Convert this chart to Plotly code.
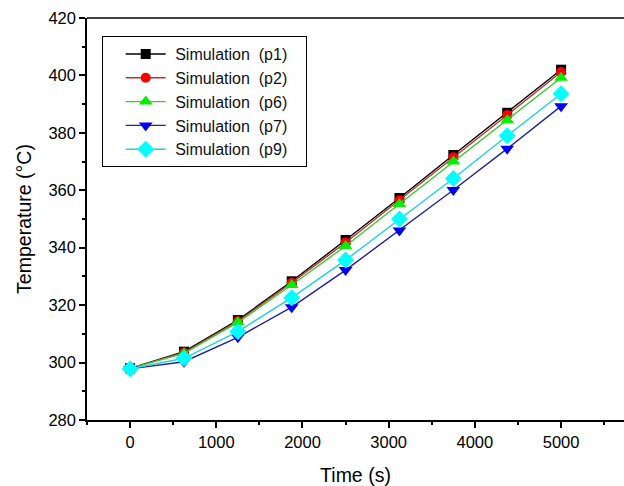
import plotly.graph_objects as go

time_s = [0, 625, 1250, 1875, 2500, 3125, 3750, 4375, 5000]
p1 = [298, 303.8, 314.8, 328.3, 342.7, 357.3, 372.3, 387, 402]
p2 = [298, 303.5, 314.4, 327.8, 341.8, 356.5, 371.5, 386.2, 401.2]
p6 = [298, 303.2, 314, 327, 340.6, 355.2, 370, 384.4, 399.2]
p7 = [297.8, 300.3, 308.8, 319.3, 332.2, 346, 360.1, 374.5, 389.3]
p9 = [297.8, 301.5, 310.8, 322.6, 335.7, 350, 364.1, 379, 393.6]

x_ticks = [0, 1000, 2000, 3000, 4000, 5000]
x_minor = [-500, 500, 1500, 2500, 3500, 4500, 5500]
y_ticks = [280, 300, 320, 340, 360, 380, 400, 420]
y_minor = [290, 310, 330, 350, 370, 390, 410]

sp = "\u00a0\u00a0"
series = [
    ("Simulation" + sp + "(p1)", p1, "#000000", "#000000", "square", 10),
    ("Simulation" + sp + "(p2)", p2, "#c03030", "#ff0000", "circle", 10),
    ("Simulation" + sp + "(p6)", p6, "#33cc33", "#00f000", "triangle-up", 12),
    ("Simulation" + sp + "(p7)", p7, "#222299", "#0000ee", "triangle-down", 12),
    ("Simulation" + sp + "(p9)", p9, "#20d0e0", "#00ffff", "diamond", 13),
]

fig = go.Figure()
for name, vals, lc, mc, sym, sz in series:
    fig.add_trace(go.Scatter(
        x=time_s, y=vals, name="\u00a0" + name + "\u00a0\u00a0\u00a0", mode="lines+markers",
        line=dict(color=lc, width=1.4),
        marker=dict(symbol=sym, size=sz, color=mc, line=dict(width=0)),
    ))

fam = "Liberation Sans, Arial, sans-serif"
axis_font = dict(family=fam, size=16.5, color="black")
fig.update_layout(
    width=624, height=486,
    margin=dict(l=87, r=0, t=18, b=66),
    paper_bgcolor="white", plot_bgcolor="white",
    font=dict(family=fam, color="black"),
    showlegend=True,
    legend=dict(
        x=0.0274, y=0.955, xanchor="left", yanchor="top",
        bordercolor="black", borderwidth=1, bgcolor="white",
        font=dict(size=16, color="#111111"),
        tracegroupgap=0, itemwidth=40, indentation=18,
    ),
    xaxis=dict(
        range=[-500, 5730], showgrid=False, zeroline=False, automargin=False,
        showline=True, linecolor="black", linewidth=1.5,
        ticks="outside", ticklen=6, tickwidth=1.5, tickcolor="black",
        tickvals=x_ticks, ticktext=[str(v) for v in x_ticks],
        minor=dict(tickvals=x_minor, ticks="outside", ticklen=3, tickwidth=1.5, tickcolor="black"),
        tickfont=axis_font,
        title=dict(text="Time (s)", font=dict(family=fam, size=19.5, color="black"), standoff=20),
    ),
    yaxis=dict(
        range=[280, 420], showgrid=False, zeroline=False, automargin=False,
        showline=True, linecolor="black", linewidth=1.5,
        ticks="outside", ticklen=6, tickwidth=1.5, tickcolor="black",
        tickvals=y_ticks, ticktext=[str(v) for v in y_ticks],
        minor=dict(tickvals=y_minor, ticks="outside", ticklen=3, tickwidth=1.5, tickcolor="black"),
        tickfont=axis_font,
        title=dict(text="Temperature (°C)", font=dict(family=fam, size=19.5, color="black"), standoff=12),
    ),
)
fig.add_shape(type="line", xref="paper", yref="paper", x0=0, x1=1, y0=1, y1=1,
              line=dict(color="black", width=1.5))

fig.write_html("out.html", config={"displayModeBar": False},
               post_script="document.body.style.margin='0px';")
